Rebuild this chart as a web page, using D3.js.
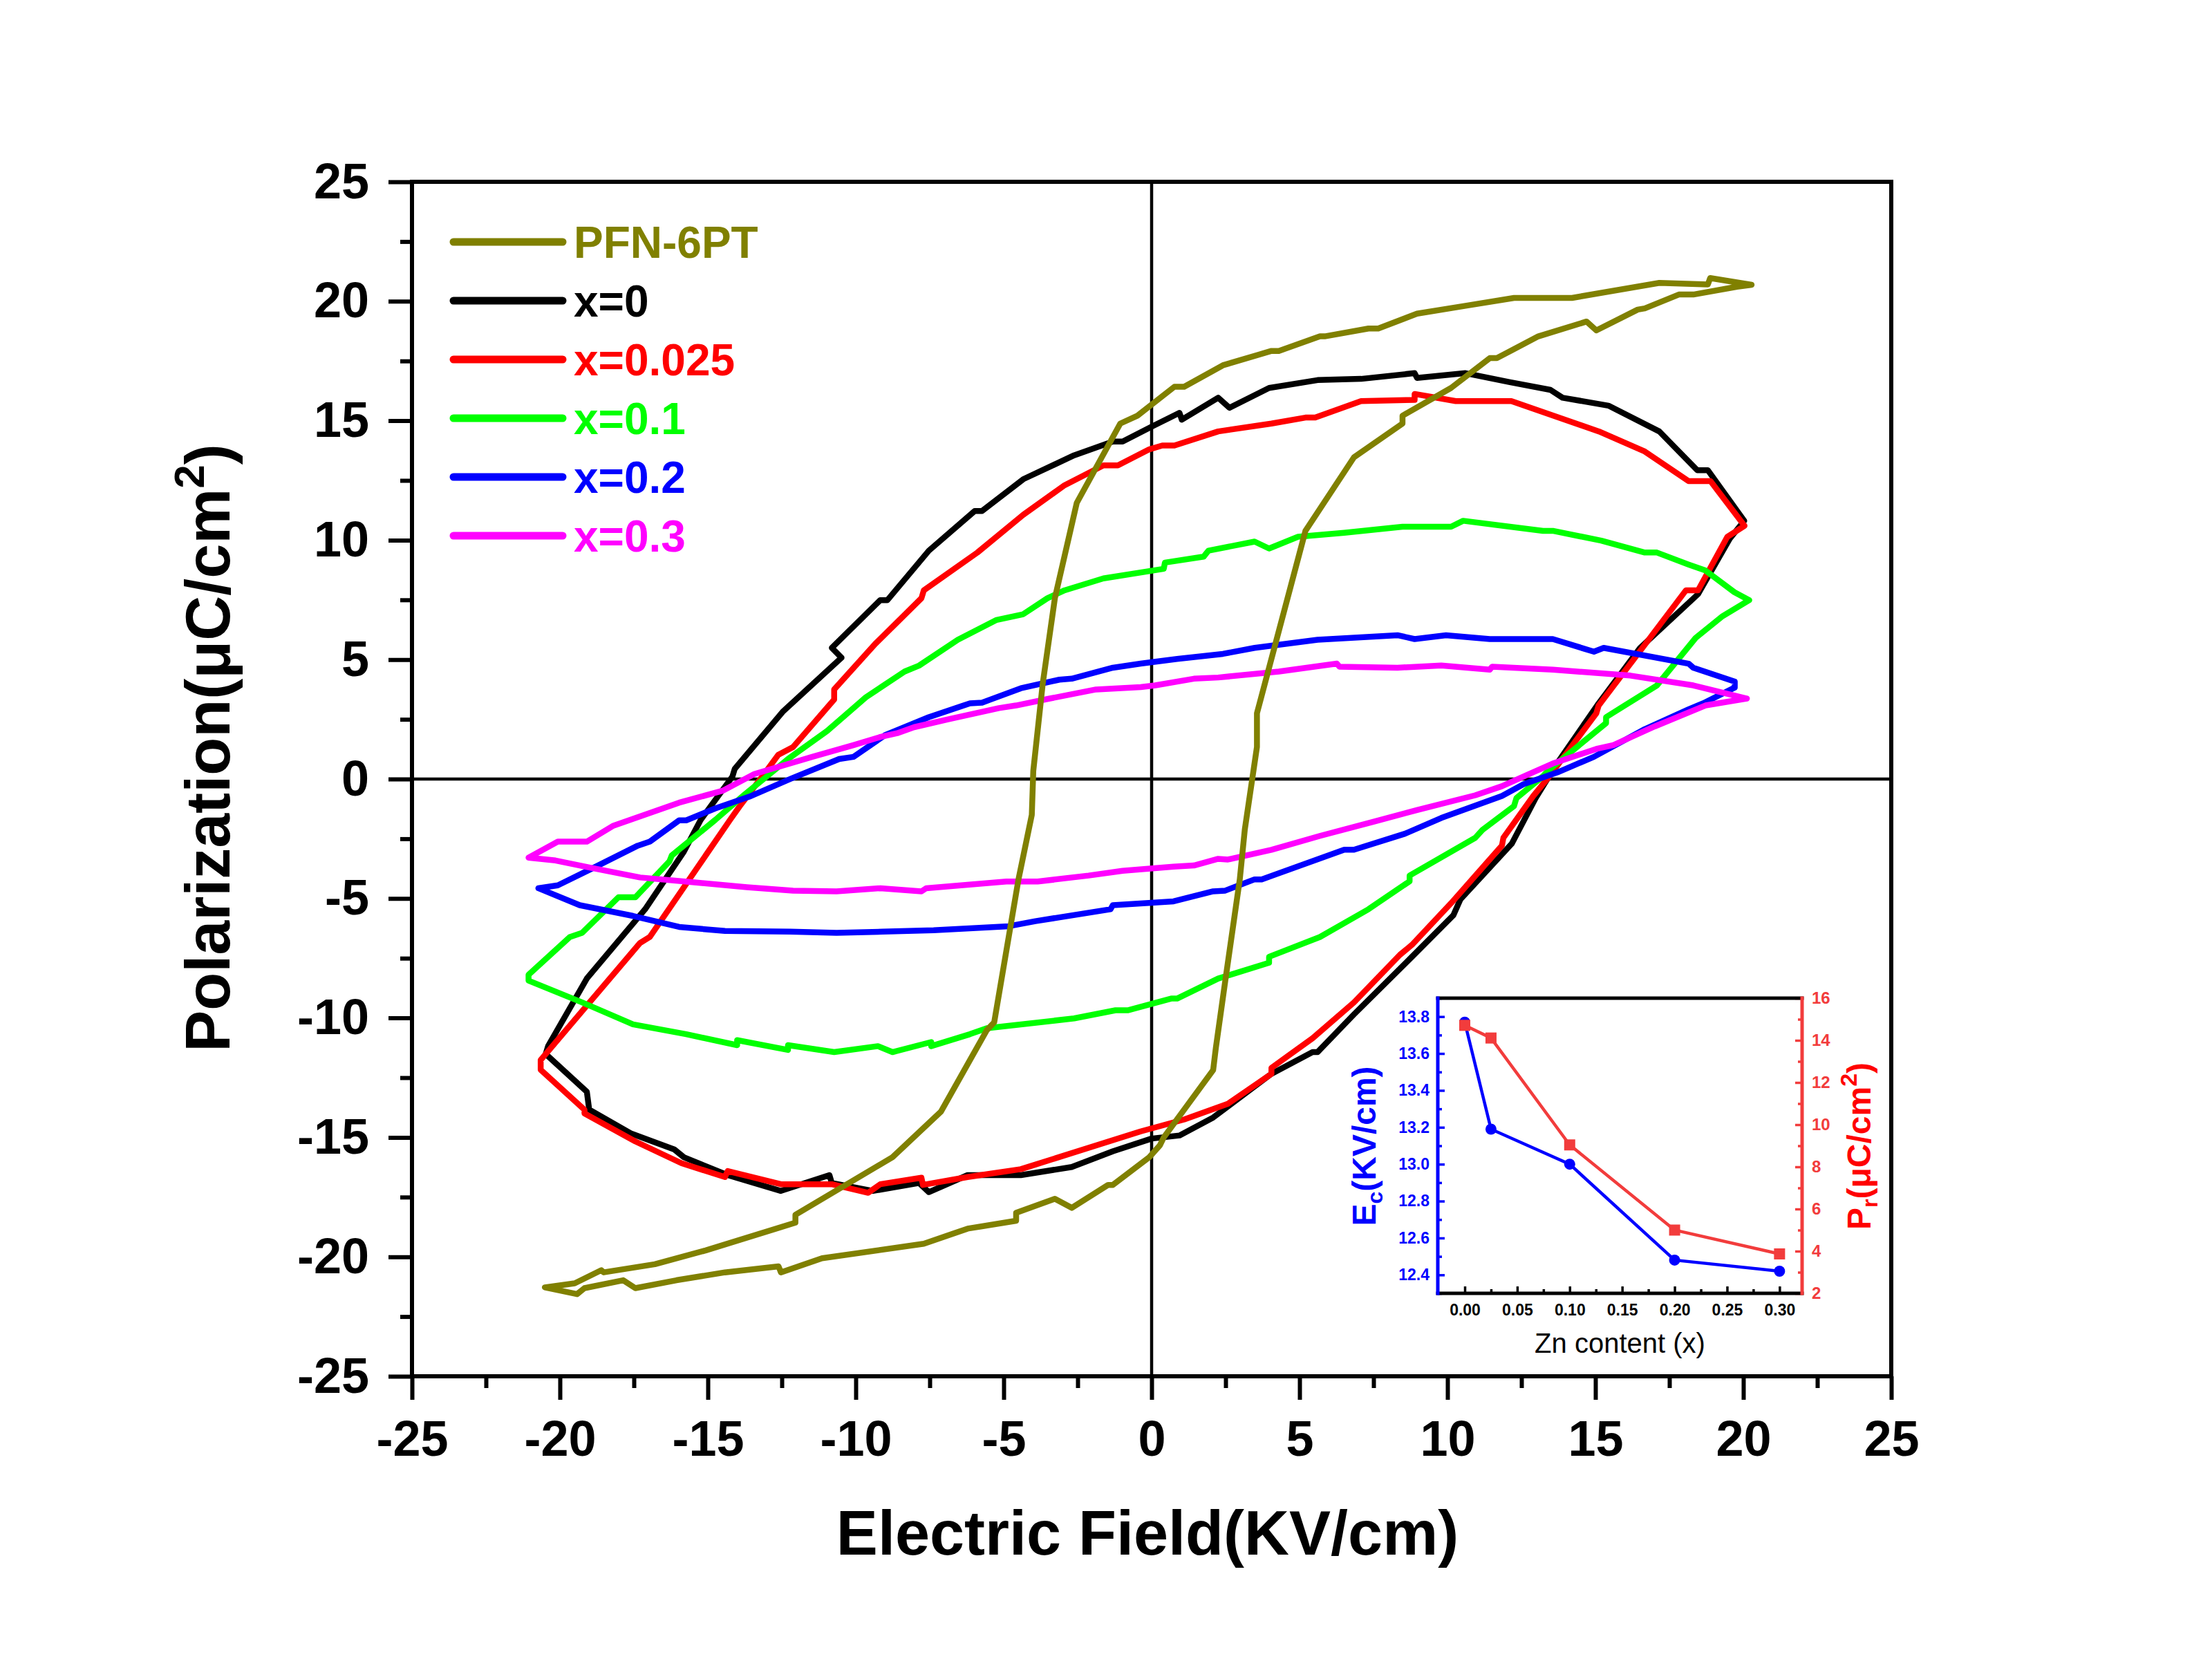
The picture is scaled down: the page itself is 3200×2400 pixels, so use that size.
<!DOCTYPE html>
<html>
<head>
<meta charset="utf-8">
<script src="https://cdn.jsdelivr.net/npm/d3@7"></script>
<style>
  body { margin: 0; background: #fff; }
</style>
</head>
<body>
<div id="wrapper"></div>
<script>
// P-E loops, [E (KV/cm), P (uC/cm2)]
// each loop: upper branch from +Emax to -Emax, then lower branch back
const loopX0 = [
  [20.03,10.81],[18.80,12.93],[18.44,12.93],[17.16,14.55],[15.44,15.63],[13.89,15.96],[13.48,16.29],
  [12.08,16.62],[10.61,16.99],[8.97,16.79],[8.89,16.99],[7.08,16.75],[5.61,16.70],[3.97,16.37],
  [2.63,15.54],[2.25,15.96],[1.02,15.04],[0.94,15.33],[0.0,14.75],[-0.98,14.13],[-1.31,14.13],
  [-2.62,13.55],[-4.34,12.55],[-5.73,11.22],[-5.98,11.22],[-7.53,9.56],[-8.93,7.49],[-9.17,7.49],
  [-10.81,5.49],[-10.48,5.08],[-12.45,2.84],[-14.09,0.43],[-14.17,0.1],[-15.24,-1.71],[-15.81,-3.04],
  [-17.12,-5.45],[-19.09,-8.35],[-20.40,-11.18],[-20.48,-11.51],[-19.09,-13.09],[-19.01,-13.84],
  [-17.61,-14.83],[-16.14,-15.50],[-15.81,-15.83],[-14.33,-16.58],[-12.53,-17.24],[-10.89,-16.58],
  [-10.81,-16.91],[-9.42,-17.24],[-7.86,-16.91],[-7.53,-17.29],[-6.22,-16.58],[-4.42,-16.58],
  [-2.70,-16.24],[-1.31,-15.58],[0.0,-15.05],[0.94,-14.92],[2.08,-14.17],[4.05,-12.34],[5.44,-11.43],
  [5.61,-11.43],[6.84,-9.85],[8.80,-7.44],[10.20,-5.70],[10.44,-5.03],[12.17,-2.71],[12.98,-0.80],
  [13.39,0.03],[13.72,0.68],[15.11,3.17],[16.51,5.49],[18.47,7.74],[19.54,10.06],[20.03,10.81]
]
const loopX0025 = [
  [20.04,10.6],[18.89,12.47],[18.15,12.47],[16.67,13.71],[15.12,14.55],[12.16,15.82],[10.28,15.82],
  [8.89,16.12],[8.89,15.87],[7.08,15.82],[5.53,15.13],[5.20,15.13],[4.05,14.88],[2.25,14.55],
  [0.77,13.96],[0.36,13.96],[-0.08,13.80],[-1.14,13.13],[-1.63,13.13],[-2.94,12.30],[-4.34,11.06],
  [-5.89,9.48],[-7.70,7.90],[-7.78,7.57],[-9.34,5.66],[-10.73,3.75],[-10.73,3.33],[-12.12,1.34],
  [-12.62,1.01],[-13.02,0.34],[-13.93,-1.15],[-14.25,-1.71],[-15.81,-4.53],[-16.96,-6.61],
  [-17.29,-6.86],[-19.17,-9.60],[-20.65,-11.76],[-20.65,-12.17],[-19.17,-13.84],[-19.17,-14.0],
  [-17.45,-15.17],[-15.89,-16.08],[-14.42,-16.66],[-14.33,-16.41],[-12.53,-16.96],[-10.81,-16.96],
  [-9.58,-17.32],[-9.17,-16.96],[-7.78,-16.69],[-7.73,-16.99],[-6.22,-16.66],[-4.42,-16.33],
  [-0.37,-14.75],[1.10,-14.25],[2.58,-13.59],[4.05,-12.34],[4.05,-12.09],[5.44,-10.85],[6.84,-9.35],
  [8.39,-7.36],[8.80,-6.94],[10.12,-5.20],[11.84,-2.79],[11.89,-2.46],[12.90,-0.71],[13.39,0.03],
  [15.03,2.75],[15.11,3.08],[16.59,5.49],[18.06,7.90],[18.47,7.90],[19.46,10.14],[20.04,10.6]
]
const loopX01 = [
  [20.20,7.49],[19.70,7.82],[18.72,8.73],[18.15,8.98],[17.08,9.48],[16.67,9.48],[15.20,9.98],
  [13.56,10.39],[13.23,10.39],[10.53,10.81],[10.12,10.56],[8.48,10.56],[6.51,10.31],[4.95,10.14],
  [3.97,9.65],[3.48,9.94],[1.92,9.56],[1.76,9.31],[0.45,9.06],[0.41,8.80],[-1.63,8.40],[-2.94,7.90],
  [-3.52,7.57],[-4.34,6.90],[-5.24,6.66],[-6.55,5.83],[-7.86,4.75],[-8.35,4.50],[-9.66,3.42],
  [-10.97,2.01],[-12.29,0.84],[-12.78,0.34],[-13.76,-0.65],[-14.75,-1.71],[-16.22,-3.20],
  [-16.30,-3.45],[-17.45,-4.95],[-18.02,-4.95],[-19.25,-6.44],[-19.66,-6.61],[-21.06,-8.19],
  [-21.06,-8.44],[-19.25,-9.35],[-17.53,-10.27],[-15.73,-10.68],[-14.01,-11.14],[-14.01,-10.93],
  [-12.29,-11.34],[-12.29,-11.14],[-10.73,-11.43],[-9.25,-11.18],[-8.76,-11.43],[-7.45,-11.01],
  [-7.45,-11.18],[-6.14,-10.68],[-5.57,-10.43],[-2.62,-10.02],[-1.22,-9.68],[-0.81,-9.68],
  [0.66,-9.19],[0.86,-9.19],[2.25,-8.35],[3.97,-7.69],[3.97,-7.44],[5.69,-6.61],[7.33,-5.45],
  [8.72,-4.28],[8.72,-4.04],[10.94,-2.46],[11.18,-2.13],[12.25,-1.13],[12.33,-0.80],[13.23,0.12],
  [13.39,0.34],[15.36,2.34],[15.36,2.59],[17.08,3.92],[18.39,5.91],[19.30,6.82],[20.20,7.49]
]
const loopX02 = [
  [19.71,3.83],[19.71,4.08],[18.31,4.66],[18.15,4.83],[15.28,5.49],[14.95,5.33],[13.56,5.86],
  [11.43,5.86],[9.95,6.02],[8.89,5.86],[8.31,6.02],[5.61,5.83],[3.48,5.49],[2.41,5.24],[0.86,5.03],
  [-0.37,4.83],[-1.31,4.66],[-2.70,4.20],[-3.12,4.16],[-4.42,3.80],[-5.73,3.20],[-6.14,3.17],
  [-7.53,2.59],[-9.01,1.84],[-10.07,0.93],[-10.56,0.84],[-12.20,0.01],[-13.60,-0.74],[-14.75,-1.23],
  [-15.73,-1.73],[-15.97,-1.73],[-16.96,-2.62],[-17.37,-2.79],[-18.84,-3.70],[-20.07,-4.45],
  [-20.73,-4.57],[-19.33,-5.28],[-17.53,-5.73],[-15.97,-6.19],[-14.42,-6.36],[-12.21,-6.39],
  [-10.65,-6.44],[-9.09,-6.39],[-7.37,-6.33],[-4.83,-6.16],[-3.93,-5.95],[-1.39,-5.45],[-1.31,-5.28],
  [0.74,-5.12],[2.08,-4.70],[2.49,-4.67],[3.48,-4.20],[3.72,-4.20],[6.51,-2.96],[6.84,-2.96],
  [8.56,-2.29],[9.79,-1.63],[11.84,-0.71],[12.57,-0.22],[13.72,0.28],[14.95,0.93],[16.67,2.09],
  [18.15,2.92],[18.64,3.17],[19.71,3.83]
]
const loopX03 = [
  [20.12,3.37],[18.31,3.92],[16.18,4.33],[13.56,4.58],[11.51,4.70],[11.43,4.58],[9.79,4.75],
  [8.31,4.66],[6.35,4.70],[6.26,4.83],[4.30,4.50],[2.25,4.25],[1.43,4.20],[0.12,3.92],[-0.37,3.85],
  [-1.88,3.75],[-3.44,3.37],[-4.58,3.08],[-5.16,2.97],[-6.88,2.50],[-8.03,2.17],[-8.60,1.92],
  [-9.17,1.76],[-10.07,1.42],[-11.47,0.93],[-13.43,0.21],[-14.50,-0.49],[-15.97,-0.99],
  [-18.19,-1.95],[-19.09,-2.62],[-20.07,-2.62],[-21.06,-3.29],[-20.15,-3.41],[-19.01,-3.70],
  [-17.29,-4.12],[-15.32,-4.34],[-13.68,-4.53],[-12.12,-4.67],[-10.65,-4.70],[-9.17,-4.57],
  [-7.78,-4.70],[-7.62,-4.57],[-4.91,-4.29],[-3.85,-4.29],[-2.13,-4.04],[-0.98,-3.84],[0.74,-3.67],
  [1.43,-3.62],[2.25,-3.34],[2.58,-3.37],[4.05,-2.96],[5.69,-2.38],[7.49,-1.79],[8.97,-1.30],
  [10.94,-0.68],[11.84,-0.30],[12.74,0.20],[13.56,0.65],[15.03,1.26],[15.61,1.42],[17.00,2.20],
  [18.72,3.08],[20.12,3.37]
]
const loopPFN = [
  [20.28,20.69],[18.88,20.97],[18.80,20.70],[17.16,20.77],[14.21,20.14],[12.25,20.14],[10.61,19.81],
  [8.97,19.48],[7.66,18.86],[7.33,18.86],[5.85,18.53],[5.69,18.53],[4.30,17.92],[4.05,17.92],
  [2.41,17.32],[1.10,16.42],[0.77,16.42],[-0.48,15.21],[-1.06,14.88],[-2.53,11.56],[-3.27,7.57],
  [-3.68,4.00],[-4.0,0.34],[-4.05,-1.50],[-4.50,-4.20],[-5.32,-10.18],[-5.57,-10.51],[-7.12,-13.92],
  [-8.76,-15.83],[-12.04,-18.24],[-12.04,-18.57],[-15.07,-19.73],[-16.79,-20.31],[-18.52,-20.65],
  [-18.60,-20.56],[-19.50,-21.11],[-20.51,-21.28],[-19.42,-21.56],[-19.17,-21.31],[-17.86,-20.98],
  [-17.45,-21.31],[-16.06,-20.98],[-14.42,-20.65],[-12.61,-20.40],[-12.53,-20.65],[-11.14,-20.06],
  [-7.70,-19.45],[-6.22,-18.82],[-4.58,-18.49],[-4.58,-18.16],[-3.27,-17.57],[-2.70,-17.95],
  [-1.47,-16.99],[-1.31,-16.99],[-0.08,-15.83],[0.28,-15.33],[0.41,-15.0],[2.08,-12.18],
  [2.17,-11.26],[2.49,-8.44],[2.98,-4.20],[3.15,-2.11],[3.56,1.34],[3.56,2.75],[5.20,10.39],
  [6.84,13.47],[8.48,14.88],[8.48,15.21],[10.12,16.37],[11.43,17.62],[11.67,17.62],[13.07,18.53],
  [14.70,19.15],[15.03,18.78],[16.43,19.65],[16.67,19.70],[17.82,20.28],[18.31,20.28],[19.79,20.61],
  [20.28,20.69]
]

const seriesNames = ["PFN-6PT", "x=0", "x=0.025", "x=0.1", "x=0.2", "x=0.3"]
const seriesColors = ["#808000", "#000000", "#ff0000", "#00ff00", "#0000ff", "#ff00ff"]
const seriesLoops = [loopPFN, loopX0, loopX0025, loopX01, loopX02, loopX03]
const majorTicks = [-25, -20, -15, -10, -5, 0, 5, 10, 15, 20, 25]
const minorTicks = [-22.5, -17.5, -12.5, -7.5, -2.5, 2.5, 7.5, 12.5, 17.5, 22.5]

// inset: coercive field and remanent polarization vs Zn content
const znContent = [0, 0.025, 0.1, 0.2, 0.3]
const ecValues = [13.77, 13.19, 13.00, 12.48, 12.42]
const prValues = [14.71, 14.11, 9.04, 5.00, 3.87]
const znTicks = [0, 0.05, 0.1, 0.15, 0.2, 0.25, 0.3]
const ecTicks = [12.4, 12.6, 12.8, 13.0, 13.2, 13.4, 13.6, 13.8]
const prTicks = [2, 4, 6, 8, 10, 12, 14, 16]

const font = "'Liberation Sans', Arial, Helvetica, sans-serif"

function drawChart() {
  let dimensions = {
    width: 3200,
    height: 2400,
    margin: { top: 263, right: 464, bottom: 409, left: 596 },
  }
  dimensions.boundedWidth = dimensions.width - dimensions.margin.left - dimensions.margin.right
  dimensions.boundedHeight = dimensions.height - dimensions.margin.top - dimensions.margin.bottom

  const wrapper = d3.select("#wrapper")
    .append("svg")
      .attr("width", dimensions.width)
      .attr("height", dimensions.height)
      .style("background", "#fff")

  const bounds = wrapper.append("g")
      .attr("transform", `translate(${dimensions.margin.left},${dimensions.margin.top})`)

  // scales
  const xScale = d3.scaleLinear()
    .domain([-25, 25])
    .range([0, dimensions.boundedWidth])
  const yScale = d3.scaleLinear()
    .domain([-25, 25])
    .range([dimensions.boundedHeight, 0])

  // zero cross lines
  bounds.append("line")
      .attr("x1", xScale(0)).attr("x2", xScale(0))
      .attr("y1", 0).attr("y2", dimensions.boundedHeight)
      .attr("stroke", "#000").attr("stroke-width", 4.5)
  bounds.append("line")
      .attr("x1", 0).attr("x2", dimensions.boundedWidth)
      .attr("y1", yScale(0)).attr("y2", yScale(0))
      .attr("stroke", "#000").attr("stroke-width", 4.5)

  // loops, PFN-6PT on top
  const lineGenerator = d3.line()
    .x(d => xScale(d[0]))
    .y(d => yScale(d[1]))
  const drawOrder = [1, 2, 3, 4, 5, 0]
  bounds.append("g")
    .selectAll("path")
    .data(drawOrder)
    .join("path")
      .attr("d", i => lineGenerator(seriesLoops[i]))
      .attr("fill", "none")
      .attr("stroke", i => seriesColors[i])
      .attr("stroke-width", 8.5)
      .attr("stroke-linejoin", "round")
      .attr("stroke-linecap", "round")

  // axes
  const styleAxis = (g, size, weight) => {
    g.select(".domain").remove()
    g.attr("font-family", font).attr("font-size", size).attr("font-weight", weight)
    g.selectAll("line").attr("stroke-width", 6)
    g.selectAll("text").attr("fill", "#000")
  }
  const fmt = d => String(d)

  bounds.append("g")
      .call(d3.axisLeft(yScale).tickValues(majorTicks).tickSize(34).tickPadding(28).tickFormat(fmt))
      .call(g => styleAxis(g, 72, "bold"))
  bounds.append("g")
      .call(d3.axisLeft(yScale).tickValues(minorTicks).tickSize(17).tickFormat(""))
      .call(g => styleAxis(g, 72, "bold"))
  bounds.append("g")
      .attr("transform", `translate(0,${dimensions.boundedHeight})`)
      .call(d3.axisBottom(xScale).tickValues(majorTicks).tickSize(34).tickPadding(30).tickFormat(fmt))
      .call(g => styleAxis(g, 72, "bold"))
  bounds.append("g")
      .attr("transform", `translate(0,${dimensions.boundedHeight})`)
      .call(d3.axisBottom(xScale).tickValues(minorTicks).tickSize(17).tickFormat(""))
      .call(g => styleAxis(g, 72, "bold"))

  bounds.append("rect")
      .attr("width", dimensions.boundedWidth)
      .attr("height", dimensions.boundedHeight)
      .attr("fill", "none")
      .attr("stroke", "#000")
      .attr("stroke-width", 6)

  // axis titles
  wrapper.append("text")
      .attr("x", 1660)
      .attr("y", 2249)
      .attr("text-anchor", "middle")
      .attr("font-family", font).attr("font-size", 90).attr("font-weight", "bold")
      .text("Electric Field(KV/cm)")

  const yTitle = wrapper.append("text")
      .attr("transform", "translate(332,1082) rotate(-90)")
      .attr("text-anchor", "middle")
      .attr("font-family", font).attr("font-size", 90).attr("font-weight", "bold")
  yTitle.append("tspan").text("Polarization(μC/cm")
  yTitle.append("tspan").attr("font-size", 62).attr("dy", -37).text("2")
  yTitle.append("tspan").attr("dy", 37).text(")")

  // legend
  const legend = wrapper.append("g")
  const legendRows = legend.selectAll("g")
    .data(seriesNames)
    .join("g")
      .attr("transform", (d, i) => `translate(656,${350 + i * 85})`)
  legendRows.append("line")
      .attr("x1", 0).attr("x2", 158)
      .attr("stroke", (d, i) => seriesColors[i])
      .attr("stroke-width", 11)
      .attr("stroke-linecap", "round")
  legendRows.append("text")
      .attr("x", 174)
      .attr("y", 23)
      .attr("fill", (d, i) => seriesColors[i])
      .attr("font-family", font).attr("font-size", 64).attr("font-weight", "bold")
      .text(d => d)

  drawInset(wrapper)
}

function drawInset(wrapper) {
  const box = { left: 2080, right: 2607, top: 1444, bottom: 1871 }
  const inset = wrapper.append("g")

  const xi = d3.scaleLinear().domain([-0.0257, 0.3215]).range([box.left, box.right])
  const yEc = d3.scaleLinear().domain([12.3, 13.9]).range([box.bottom, box.top])
  const yPr = d3.scaleLinear().domain([2, 16]).range([box.bottom, box.top])
  const blue = "#0000ff"
  const red = "#f23c3c"

  const ecMinor = d3.range(12.3, 13.95, 0.1).filter(v => !ecTicks.some(t => Math.abs(t - v) < 1e-6))
  const prMinor = d3.range(3, 16, 2)
  const znMinor = [0.025, 0.075, 0.125, 0.175, 0.225, 0.275]

  const styleAxis = (g, color, size, weight) => {
    g.select(".domain").remove()
    g.attr("font-family", font).attr("font-size", size).attr("font-weight", weight)
    g.selectAll("line").attr("stroke", color).attr("stroke-width", 3.5)
    g.selectAll("text").attr("fill", color)
  }

  // bottom
  inset.append("g")
      .attr("transform", `translate(0,${box.bottom})`)
      .call(d3.axisBottom(xi).tickValues(znTicks).tickSize(-10).tickPadding(16).tickFormat(d3.format(".2f")))
      .call(g => styleAxis(g, "#000", 23, "bold"))
  inset.append("g")
      .attr("transform", `translate(0,${box.bottom})`)
      .call(d3.axisBottom(xi).tickValues(znMinor).tickSize(-6).tickFormat(""))
      .call(g => styleAxis(g, "#000", 23, "bold"))
  // left
  inset.append("g")
      .attr("transform", `translate(${box.left},0)`)
      .call(d3.axisLeft(yEc).tickValues(ecTicks).tickSize(-10).tickPadding(12).tickFormat(d3.format(".1f")))
      .call(g => styleAxis(g, blue, 23, "bold"))
  inset.append("g")
      .attr("transform", `translate(${box.left},0)`)
      .call(d3.axisLeft(yEc).tickValues(ecMinor).tickSize(-6).tickFormat(""))
      .call(g => styleAxis(g, blue, 23, "bold"))
  // right
  inset.append("g")
      .attr("transform", `translate(${box.right},0)`)
      .call(d3.axisRight(yPr).tickValues(prTicks).tickSize(-10).tickPadding(14).tickFormat(d3.format("d")))
      .call(g => styleAxis(g, red, 24, "bold"))
  inset.append("g")
      .attr("transform", `translate(${box.right},0)`)
      .call(d3.axisRight(yPr).tickValues(prMinor).tickSize(-6).tickFormat(""))
      .call(g => styleAxis(g, red, 24, "bold"))

  // frame
  const frame = [
    { x1: box.left, y1: box.top, x2: box.right, y2: box.top, c: "#000" },
    { x1: box.left, y1: box.bottom, x2: box.right, y2: box.bottom, c: "#000" },
    { x1: box.left, y1: box.top, x2: box.left, y2: box.bottom, c: blue },
    { x1: box.right, y1: box.top, x2: box.right, y2: box.bottom, c: red },
  ]
  inset.append("g").selectAll("line")
    .data(frame)
    .join("line")
      .attr("x1", d => d.x1).attr("y1", d => d.y1)
      .attr("x2", d => d.x2).attr("y2", d => d.y2)
      .attr("stroke", d => d.c)
      .attr("stroke-width", 5)
      .attr("stroke-linecap", "square")

  // Ec series
  const ecLine = d3.line().x((d, i) => xi(znContent[i])).y(d => yEc(d))
  inset.append("path")
      .attr("d", ecLine(ecValues))
      .attr("fill", "none").attr("stroke", blue).attr("stroke-width", 4.5)
  inset.append("g").selectAll("circle")
    .data(ecValues)
    .join("circle")
      .attr("cx", (d, i) => xi(znContent[i]))
      .attr("cy", d => yEc(d))
      .attr("r", 8)
      .attr("fill", blue)

  // Pr series
  const prLine = d3.line().x((d, i) => xi(znContent[i])).y(d => yPr(d))
  inset.append("path")
      .attr("d", prLine(prValues))
      .attr("fill", "none").attr("stroke", red).attr("stroke-width", 4.5)
  inset.append("g").selectAll("rect")
    .data(prValues)
    .join("rect")
      .attr("x", (d, i) => xi(znContent[i]) - 8)
      .attr("y", d => yPr(d) - 8)
      .attr("width", 16)
      .attr("height", 16)
      .attr("fill", red)

  // inset titles
  inset.append("text")
      .attr("x", (box.left + box.right) / 2)
      .attr("y", 1957)
      .attr("text-anchor", "middle")
      .attr("font-family", font).attr("font-size", 40)
      .text("Zn content (x)")

  const ecTitle = inset.append("text")
      .attr("transform", "translate(1990,1658) rotate(-90)")
      .attr("text-anchor", "middle")
      .attr("fill", blue)
      .attr("font-family", font).attr("font-size", 48).attr("font-weight", "bold")
  ecTitle.append("tspan").text("E")
  ecTitle.append("tspan").attr("font-size", 32).attr("dy", 10).text("c")
  ecTitle.append("tspan").attr("dy", -10).text("(KV/cm)")

  const prTitle = inset.append("text")
      .attr("transform", "translate(2706,1658) rotate(-90)")
      .attr("text-anchor", "middle")
      .attr("fill", "#ff0000")
      .attr("font-family", font).attr("font-size", 48).attr("font-weight", "bold")
  prTitle.append("tspan").text("P")
  prTitle.append("tspan").attr("font-size", 32).attr("dy", 10).text("r")
  prTitle.append("tspan").attr("dy", -10).text("(μC/cm")
  prTitle.append("tspan").attr("font-size", 34).attr("dy", -20).text("2")
  prTitle.append("tspan").attr("dy", 20).text(")")
}

drawChart()
</script>
</body>
</html>
